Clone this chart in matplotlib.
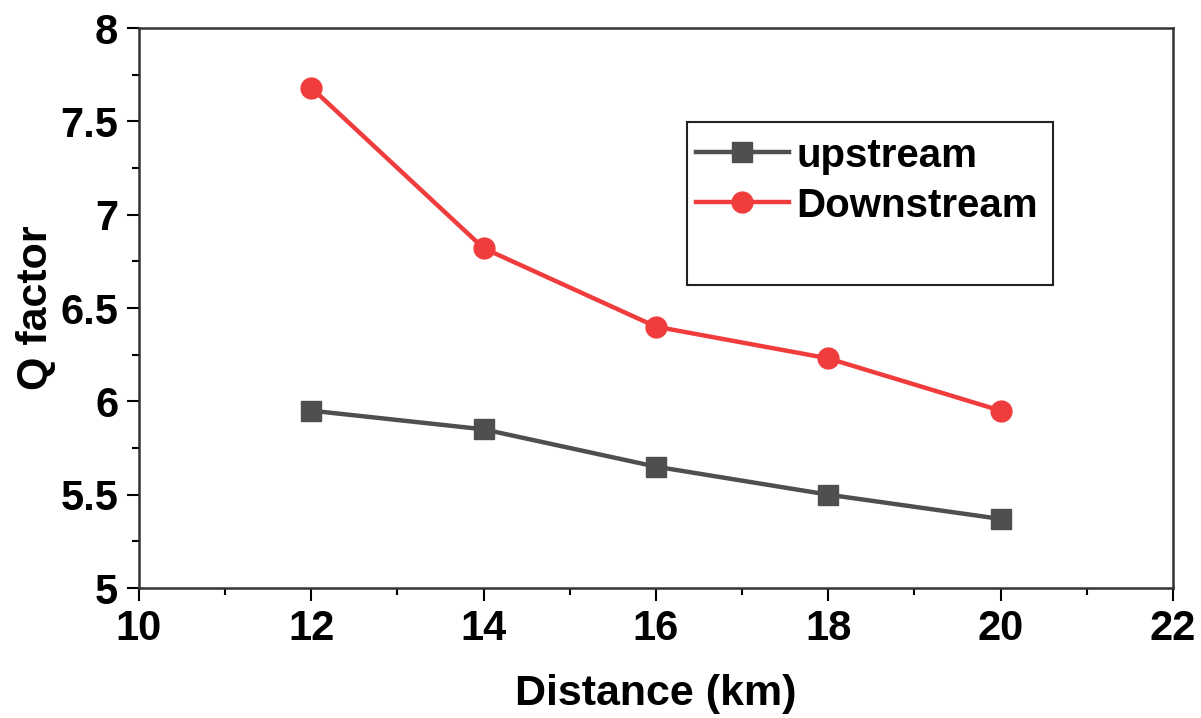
import matplotlib.pyplot as plt
from matplotlib.patches import Rectangle

distance = [12, 14, 16, 18, 20]
upstream = [5.95, 5.85, 5.65, 5.50, 5.37]
downstream = [7.68, 6.82, 6.40, 6.23, 5.95]

plt.rcParams["font.family"] = ["Liberation Sans", "DejaVu Sans"]
plt.rcParams["font.weight"] = "bold"

fig = plt.figure(figsize=(12.01, 7.18), dpi=100)
ax = fig.add_axes([139 / 1201, 1 - 588 / 718, 1034 / 1201, 560 / 718])

ax.plot(distance, upstream, color="#4f4f4f", lw=3.2, marker="s", ms=15, label="upstream")
ax.plot(distance, downstream, color="#f03c3c", lw=3.2, marker="o", ms=15, label="Downstream")

ax.set_xlim(10, 22)
ax.set_ylim(5, 8)
ax.set_xticks([10, 12, 14, 16, 18, 20, 22])
ax.set_xticks(range(11, 22, 2), minor=True)
ax.set_yticks([5, 5.5, 6, 6.5, 7, 7.5, 8])
ax.set_yticklabels(["5", "5.5", "6", "6.5", "7", "7.5", "8"])
ax.set_yticks([5.25, 5.75, 6.25, 6.75, 7.25, 7.75], minor=True)
ax.tick_params(which="major", length=9, width=1.5, labelsize=30, pad=6)
ax.tick_params(which="minor", length=5, width=1.5)
for s in ax.spines.values():
    s.set_linewidth(1.8)
    s.set_color("#333333")

ax.set_xlabel("Distance (km)", fontsize=31, fontweight="bold", labelpad=18)
ax.set_ylabel("Q factor", fontsize=31, fontweight="bold", labelpad=3)

ax.add_patch(Rectangle((0.530, 0.541), 0.354, 0.291, transform=ax.transAxes,
                       fill=False, ec="#222222", lw=1.5, zorder=5))
ax.legend(loc="upper left", bbox_to_anchor=(0.523, 0.835), frameon=False,
          fontsize=29, handlelength=2.3, handletextpad=0.2, labelspacing=0.3,
          borderaxespad=0)

fig.savefig("out.png", dpi=100)
